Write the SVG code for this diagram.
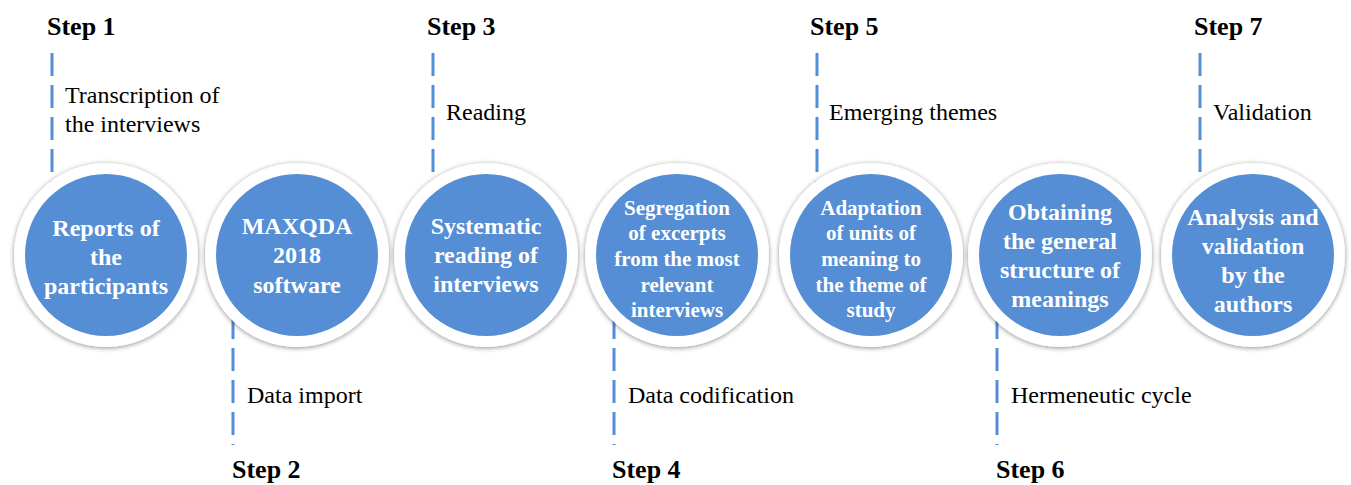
<svg xmlns="http://www.w3.org/2000/svg" width="1351" height="485" viewBox="0 0 1351 485">
  <style>
    .step { font-family: "Liberation Serif", "Times New Roman", serif; font-weight: bold; font-size: 26px; fill: #000; }
    .note { font-family: "Liberation Serif", "Times New Roman", serif; font-size: 24px; fill: #000; }
    .ct { font-family: "Liberation Serif", "Times New Roman", serif; font-weight: bold; font-size: 24px; fill: #fff; text-anchor: middle; }
    .ct.sm { font-size: 21px; }
    .ring { fill: #fff; filter: url(#sh); }
    .core { fill: #558ED5; }
    .dash { stroke: #558ED5; stroke-width: 3; stroke-dasharray: 23 9; fill: none; }
  </style>
  <defs>
    <filter id="sh" x="-20%" y="-20%" width="140%" height="140%">
      <feDropShadow dx="0" dy="1" stdDeviation="2.5" flood-color="#000" flood-opacity="0.45"/>
    </filter>
  </defs>
  <rect width="1351" height="485" fill="#fff"/>

  <g id="connectors">
    <line class="dash" x1="52" y1="53" x2="52" y2="210"/>
    <line class="dash" x1="433" y1="53" x2="433" y2="210"/>
    <line class="dash" x1="817" y1="53" x2="817" y2="210"/>
    <line class="dash" x1="1200" y1="53" x2="1200" y2="210"/>
    <line class="dash" x1="233" y1="252" x2="233" y2="445"/>
    <line class="dash" x1="614" y1="252" x2="614" y2="445"/>
    <line class="dash" x1="997" y1="252" x2="997" y2="445"/>
  </g>

  <g id="labels">
    <text class="step" x="47" y="35">Step 1</text>
    <text class="step" x="427" y="35">Step 3</text>
    <text class="step" x="810" y="35">Step 5</text>
    <text class="step" x="1194" y="35">Step 7</text>
    <text class="step" x="232" y="478">Step 2</text>
    <text class="step" x="612" y="478">Step 4</text>
    <text class="step" x="996" y="478">Step 6</text>
    <text class="note" x="65" y="103">Transcription of</text>
    <text class="note" x="65" y="132">the interviews</text>
    <text class="note" x="446" y="120">Reading</text>
    <text class="note" x="829" y="120">Emerging themes</text>
    <text class="note" x="1213" y="120">Validation</text>
    <text class="note" x="247" y="403">Data import</text>
    <text class="note" x="628" y="403">Data codification</text>
    <text class="note" x="1011" y="403">Hermeneutic cycle</text>
  </g>

  <g id="node1">
    <circle class="ring" cx="106" cy="255" r="92"/>
    <circle class="core" cx="106" cy="255" r="81"/>
    <text class="ct" x="106" y="236">Reports of</text>
    <text class="ct" x="106" y="265">the</text>
    <text class="ct" x="106" y="294">participants</text>
  </g>
  <g id="node2">
    <circle class="ring" cx="297" cy="255" r="92"/>
    <circle class="core" cx="297" cy="255" r="81"/>
    <text class="ct" x="297" y="234">MAXQDA</text>
    <text class="ct" x="297" y="263">2018</text>
    <text class="ct" x="297" y="293">software</text>
  </g>
  <g id="node3">
    <circle class="ring" cx="486" cy="255" r="92"/>
    <circle class="core" cx="486" cy="255" r="81"/>
    <text class="ct" x="486" y="234">Systematic</text>
    <text class="ct" x="486" y="263">reading of</text>
    <text class="ct" x="486" y="292">interviews</text>
  </g>
  <g id="node4">
    <circle class="ring" cx="677" cy="255" r="92"/>
    <circle class="core" cx="677" cy="255" r="81"/>
    <text class="ct sm" x="677" y="215">Segregation</text>
    <text class="ct sm" x="677" y="240">of excerpts</text>
    <text class="ct sm" x="677" y="266">from the most</text>
    <text class="ct sm" x="677" y="292">relevant</text>
    <text class="ct sm" x="677" y="317">interviews</text>
  </g>
  <g id="node5">
    <circle class="ring" cx="871" cy="255" r="92"/>
    <circle class="core" cx="871" cy="255" r="81"/>
    <text class="ct sm" x="871" y="215">Adaptation</text>
    <text class="ct sm" x="871" y="240">of units of</text>
    <text class="ct sm" x="871" y="266">meaning to</text>
    <text class="ct sm" x="871" y="292">the theme of</text>
    <text class="ct sm" x="871" y="317">study</text>
  </g>
  <g id="node6">
    <circle class="ring" cx="1060" cy="255" r="92"/>
    <circle class="core" cx="1060" cy="255" r="81"/>
    <text class="ct" x="1060" y="220">Obtaining</text>
    <text class="ct" x="1060" y="249">the general</text>
    <text class="ct" x="1060" y="278">structure of</text>
    <text class="ct" x="1060" y="307">meanings</text>
  </g>
  <g id="node7">
    <circle class="ring" cx="1253" cy="255" r="92"/>
    <circle class="core" cx="1253" cy="255" r="81"/>
    <text class="ct" x="1253" y="225">Analysis and</text>
    <text class="ct" x="1253" y="254">validation</text>
    <text class="ct" x="1253" y="283">by the</text>
    <text class="ct" x="1253" y="312">authors</text>
  </g>
</svg>
